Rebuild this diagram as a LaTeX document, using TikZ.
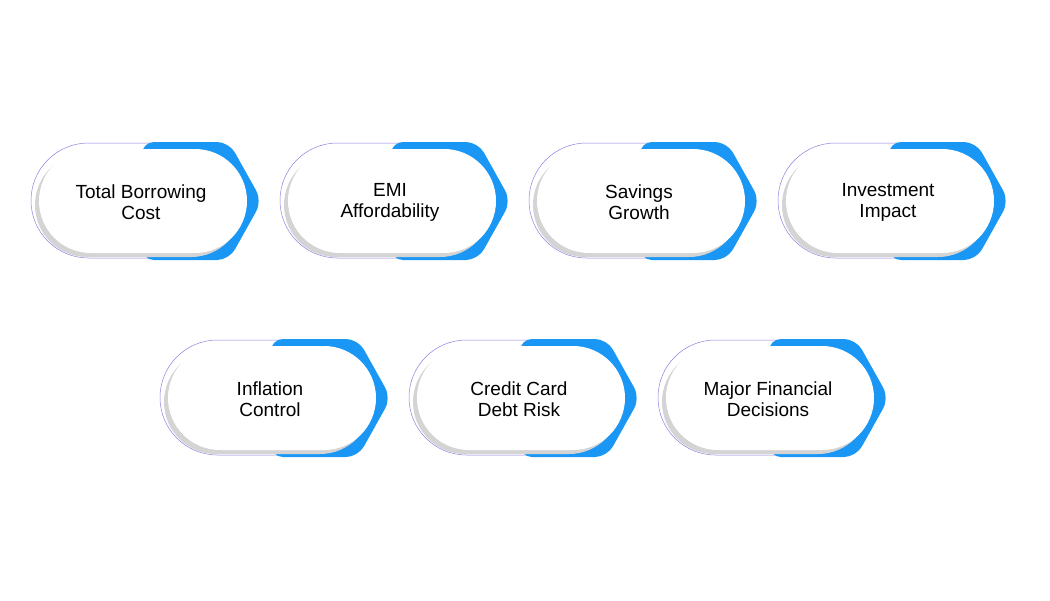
\documentclass[tikz,border=0pt]{standalone}
\usepackage{fontspec}
\setmainfont{Liberation Sans}
\definecolor{tblue}{HTML}{1A97F5}
\definecolor{tline}{HTML}{8F7FE0}
\definecolor{tshadow}{HTML}{D4D4D4}
\tikzset{
  outl/.style={draw=tline, line width=0.5pt, fill=white, rounded corners=57.5pt},
  bluepart/.style={fill=tblue, rounded corners=12pt},
  shad/.style={fill=tshadow, rounded corners=52pt},
  front/.style={fill=white, rounded corners=52pt},
  lbl/.style={font=\fontsize{19}{21}\selectfont, align=center, text=black}
}
\newcommand{\tile}[4]{%
  \begin{scope}[shift={(#1pt,-#2pt)}, x=1pt, y=1pt]
    \draw[outl] (0,0) rectangle (215,-115);
    \fill[bluepart] (111,1) -- (198,1) -- (231,-58) -- (198,-117) -- (111,-117) -- cycle;
    \fill[shad] (4,-10) rectangle (212,-114);
    \fill[front] (8,-6) rectangle (216,-110);
    \node[lbl] (#4) at (110,-59) {#3};
  \end{scope}}
\begin{document}
\begin{tikzpicture}
\useasboundingbox (0,0) rectangle (1050pt,-600pt);
\tile{31}{143}{Total Borrowing\\Cost}{t1}
\tile{280}{143}{EMI\\Affordability}{t2}
\tile{529}{143}{Savings\\Growth}{t3}
\tile{778}{143}{Investment\\Impact}{t4}
\tile{160}{340}{Inflation\\Control}{t5}
\tile{409}{340}{Credit Card\\Debt Risk}{t6}
\tile{658}{340}{Major Financial\\Decisions}{t7}
\end{tikzpicture}
\end{document}
